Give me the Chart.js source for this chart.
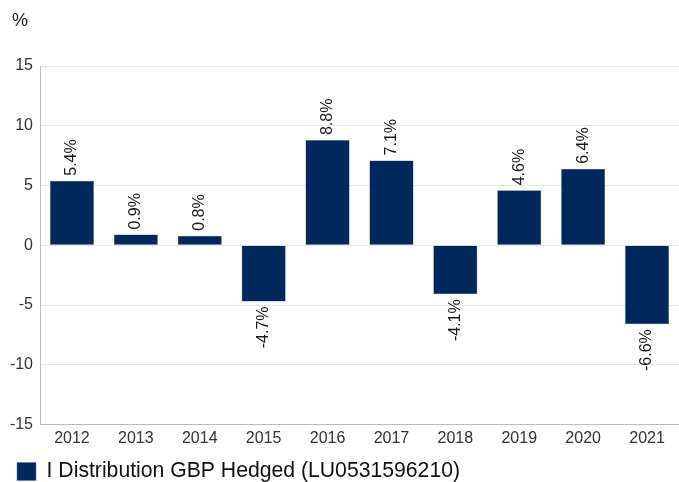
<!DOCTYPE html>
<html>
<head>
<meta charset="utf-8">
<script src="https://cdn.jsdelivr.net/npm/chart.js@4/dist/chart.umd.min.js"></script>
<style>
  html, body { margin: 0; padding: 0; background: #fff; }
  #wrap { width: 679px; height: 482px; }
</style>
</head>
<body>
<div id="wrap"><canvas id="c" width="679" height="482"></canvas></div>
<script>
const years = ['2012', '2013', '2014', '2015', '2016', '2017', '2018', '2019', '2020', '2021'];
const returns = [5.4, 0.9, 0.8, -4.7, 8.8, 7.1, -4.1, 4.6, 6.4, -6.6];
const seriesName = 'I Distribution GBP Hedged (LU0531596210)';
const yTicks = [-15, -10, -5, 0, 5, 10, 15];
const unitLabel = '%';

const FONT = "'Liberation Sans', Arial, sans-serif";

// vertical value labels above / below each bar, plus the unit label top left
const barLabels = {
  id: 'barLabels',
  afterDatasetsDraw(chart) {
    const ctx = chart.ctx;
    const meta = chart.getDatasetMeta(0);
    ctx.save();
    ctx.font = '16px ' + FONT;
    ctx.fillStyle = '#1a1a1a';
    ctx.textBaseline = 'middle';
    meta.data.forEach((bar, i) => {
      const v = returns[i];
      const txt = v.toFixed(1) + '%';
      ctx.save();
      ctx.translate(bar.x, bar.y);
      ctx.rotate(-Math.PI / 2);
      if (v >= 0) {
        ctx.textAlign = 'left';
        ctx.fillText(txt, 5, 0);
      } else {
        ctx.textAlign = 'right';
        ctx.fillText(txt, -5, 0);
      }
      ctx.restore();
    });
    ctx.font = '18px ' + FONT;
    ctx.fillStyle = '#222';
    ctx.textAlign = 'left';
    ctx.fillText(unitLabel, 12, 21);
    ctx.restore();
  }
};

new Chart(document.getElementById('c'), {
  type: 'bar',
  data: {
    labels: years,
    datasets: [{
      label: seriesName,
      data: returns,
      backgroundColor: '#00285c',
      borderColor: '#5a7199',
      borderWidth: 0.5,
      barPercentage: 0.69,
      categoryPercentage: 1
    }]
  },
  options: {
    responsive: false,
    animation: false,
    layout: { padding: { left: 8, right: 0, top: 66, bottom: -10 } },
    scales: {
      x: {
        grid: { display: false, drawTicks: false },
        border: { display: true, color: '#bbb' },
        ticks: { color: '#333', font: { family: FONT, size: 16 }, padding: 4 }
      },
      y: {
        min: -15,
        max: 15,
        afterBuildTicks(axis) { axis.ticks = yTicks.map(v => ({ value: v })); },
        grid: { color: '#e6e6e6', drawTicks: false },
        border: { display: true, color: '#bbb' },
        ticks: { color: '#333', font: { family: FONT, size: 16 }, padding: 7 },
        afterFit(scale) { scale.width = 32; }
      }
    },
    plugins: {
      legend: {
        position: 'bottom',
        align: 'start',
        labels: {
          boxWidth: 19,
          boxHeight: 18,
          color: '#111',
          font: { family: FONT, size: 21.2 },
          padding: 9
        }
      },
      tooltip: { enabled: false }
    }
  },
  plugins: [barLabels]
});
</script>
</body>
</html>
